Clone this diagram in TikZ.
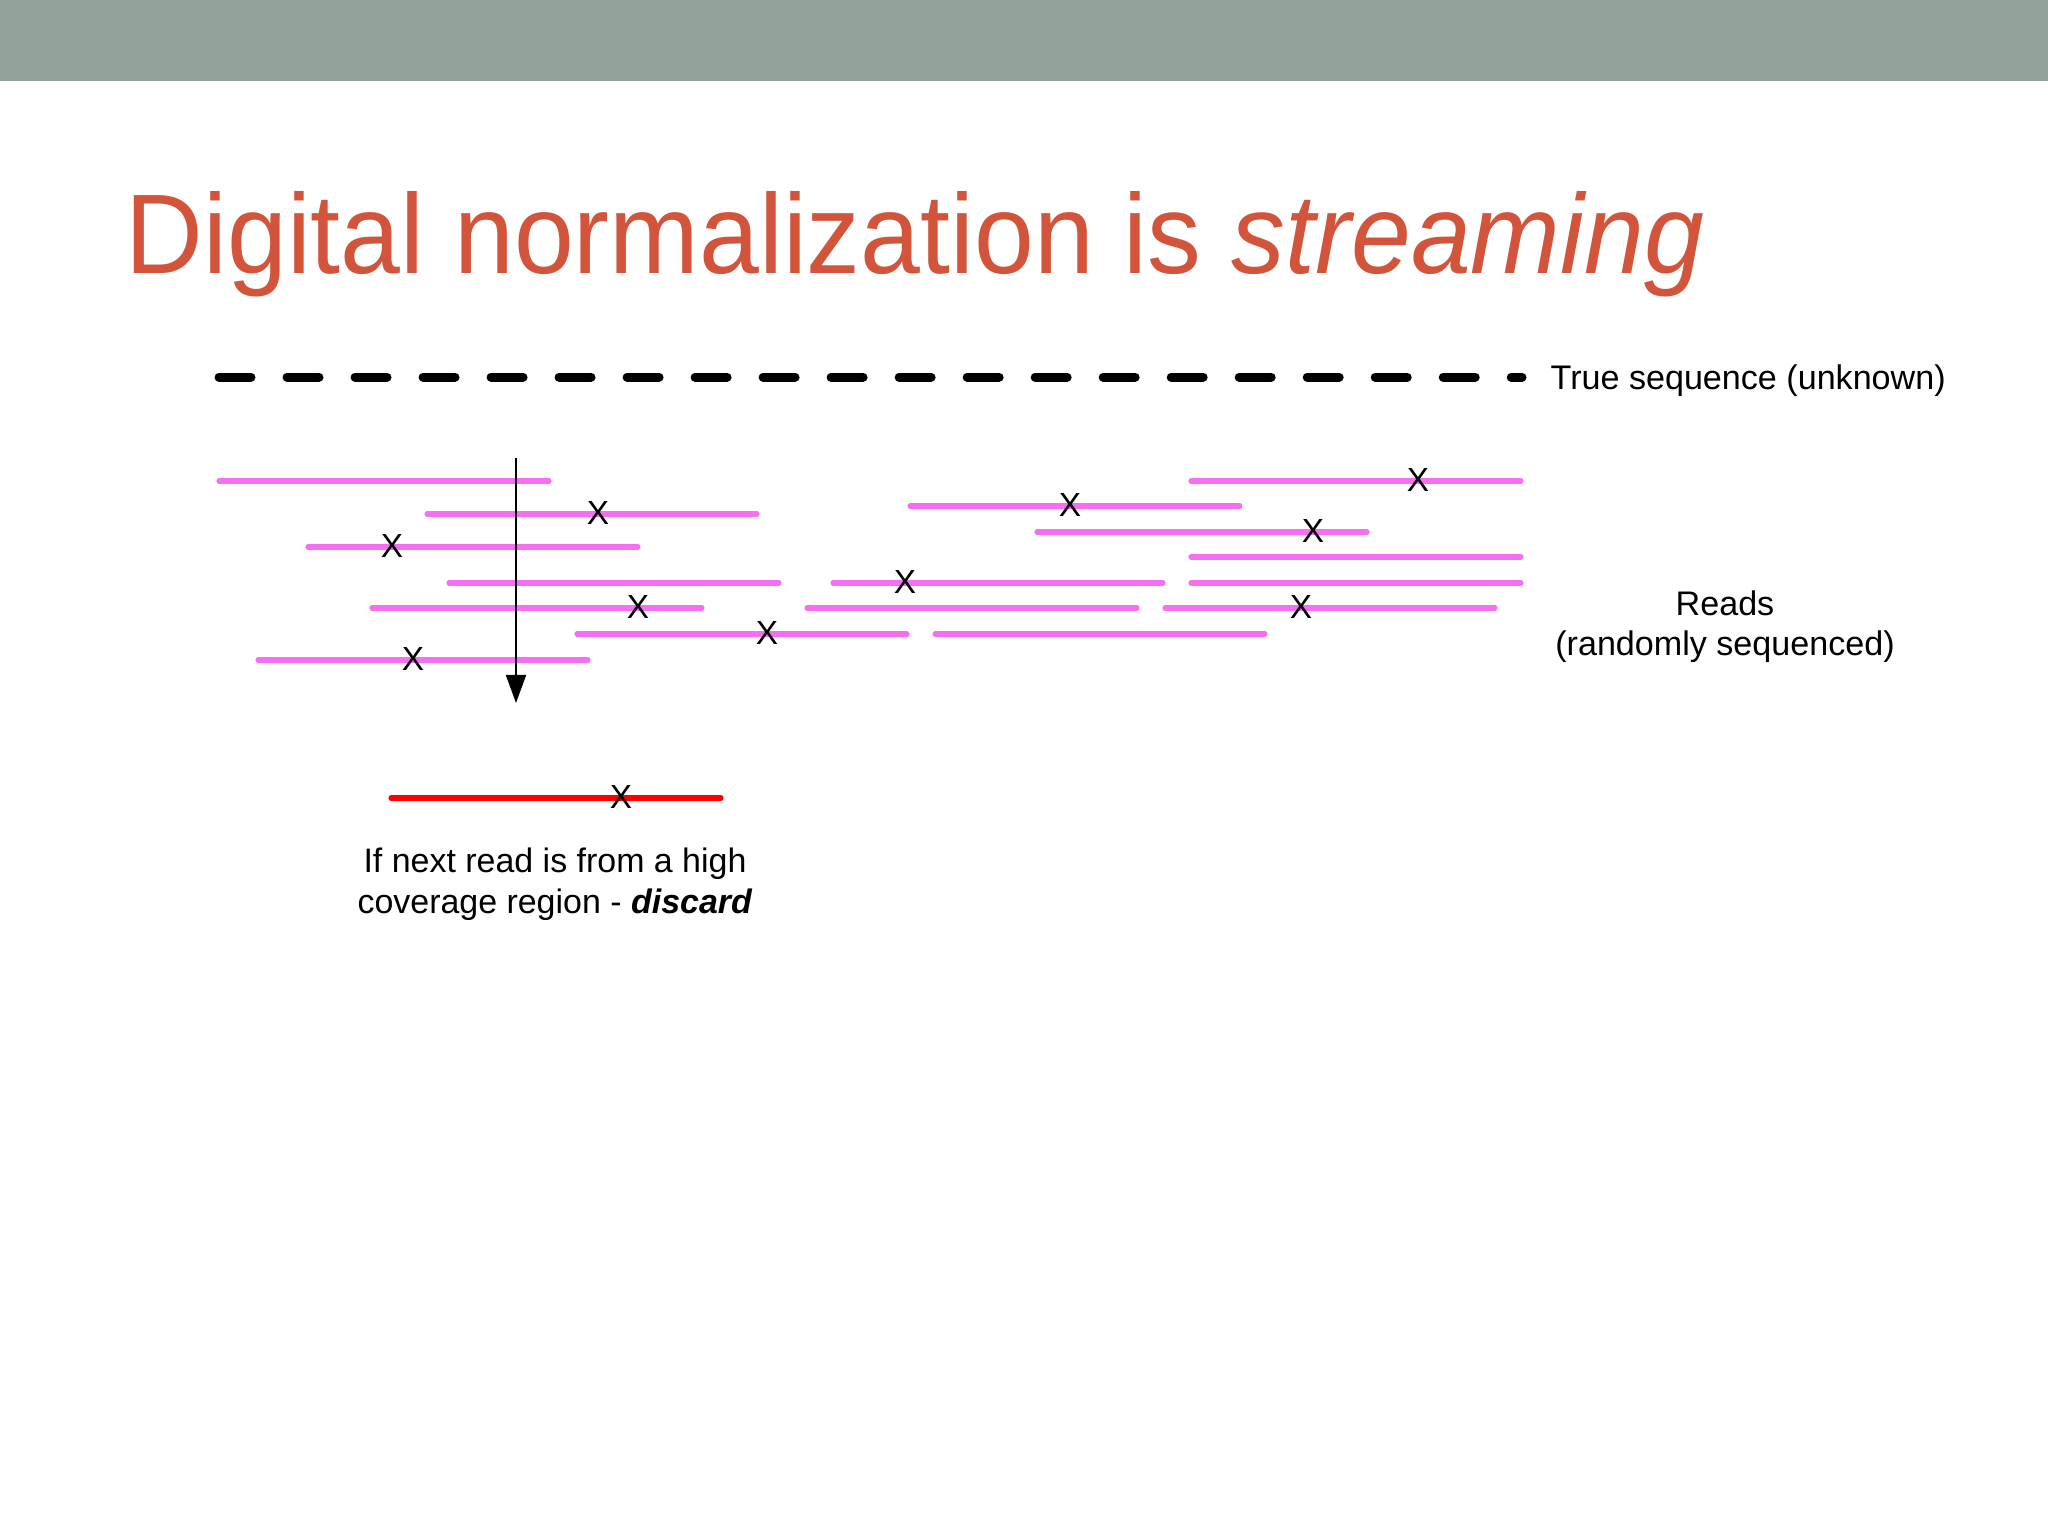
\documentclass[tikz,border=0pt]{standalone}
\usepackage{fontspec}
\setmainfont{Liberation Sans}
\usetikzlibrary{arrows.meta}

\definecolor{bandgray}{RGB}{147,162,154}
\definecolor{titlered}{RGB}{209,84,59}
\definecolor{readpink}{RGB}{246,110,242}

\begin{document}
\begin{tikzpicture}[x=0.01cm, y=-0.01cm,
    readline/.style={draw=readpink, line width=1.45pt, line cap=round},
    snp/.style={inner sep=0pt, font=\fontsize{9.5pt}{10pt}\selectfont},
    label/.style={inner sep=0pt, align=center}]
      % \draw[very thin, gray, step=100] (0,0) grid (2048,1536);
      \useasboundingbox (0,0) rectangle (2048,1536);
      \fill[white] (0,0) rectangle (2048,1536);
      \fill[bandgray] (0,0) rectangle (2048,81);

      \node[inner sep=0pt, anchor=base west, text=titlered, xscale=0.95, transform shape,
        font=\fontsize{32.2pt}{38pt}\selectfont]
        (title) at (125,273) {Digital normalization is \textit{streaming}};

      % true sequence
      \coordinate (seqstart) at (219,377);
      \node[inner sep=0pt, anchor=base west, font=\fontsize{9.7pt}{12pt}\selectfont]
        (seq) at (1550,389) {True sequence (unknown)};
      \draw[line width=2.56pt, line cap=round, dash pattern=on 9.1pt off 10.24pt]
        (seqstart) -- (1522,377);

      % reads, left group
      \draw[readline] (219,481) -- (549,481);
      \draw[readline] (427,514) -- (757,514);
      \node[snp] (x2) at (598,513) {X};
      \draw[readline] (308,547) -- (638,547);
      \node[snp] (x3) at (392,546) {X};
      \draw[readline] (449,583) -- (779,583);
      \draw[readline] (372,608) -- (702,608);
      \node[snp] (x5) at (638,607) {X};
      \draw[readline] (577,634) -- (907,634);
      \node[snp] (x6) at (767,633) {X};
      \draw[readline] (258,660) -- (588,660);
      \node[snp] (x7) at (413,659) {X};

      % reads, right group
      \draw[readline] (1191,481) -- (1521,481);
      \node[snp] (x8) at (1418,480) {X};
      \draw[readline] (910,506) -- (1240,506);
      \node[snp] (x9) at (1070,505) {X};
      \draw[readline] (1037,532) -- (1367,532);
      \node[snp] (x10) at (1313,531) {X};
      \draw[readline] (1191,557) -- (1521,557);
      \draw[readline] (833,583) -- (1163,583);
      \node[snp] (x12) at (905,582) {X};
      \draw[readline] (1191,583) -- (1521,583);
      \draw[readline] (807,608) -- (1137,608);
      \draw[readline] (1165,608) -- (1495,608);
      \node[snp] (x15) at (1301,607) {X};
      \draw[readline] (935,634) -- (1265,634);

      \node[label, anchor=base, font=\fontsize{9.7pt}{11.1pt}\selectfont]
        (reads) at (1725,655) {Reads\\(randomly sequenced)};

      % stream of reads
      \coordinate (streamtop) at (516,458);
      \coordinate (streamend) at (516,703);
      \draw[-{Triangle[length=8pt, width=5.7pt]}, line width=0.6pt] (streamtop) -- (streamend);

      % next read
      \draw[readline, draw=red] (391,798) -- (721,798);
      \node[snp] (xnext) at (621,797) {X};
      \node[label, anchor=base, font=\fontsize{9.65pt}{11.4pt}\selectfont]
        (discard) at (555,913) {If next read is from a high\\coverage region - \textbf{\textit{discard}}};
\end{tikzpicture}
\end{document}
